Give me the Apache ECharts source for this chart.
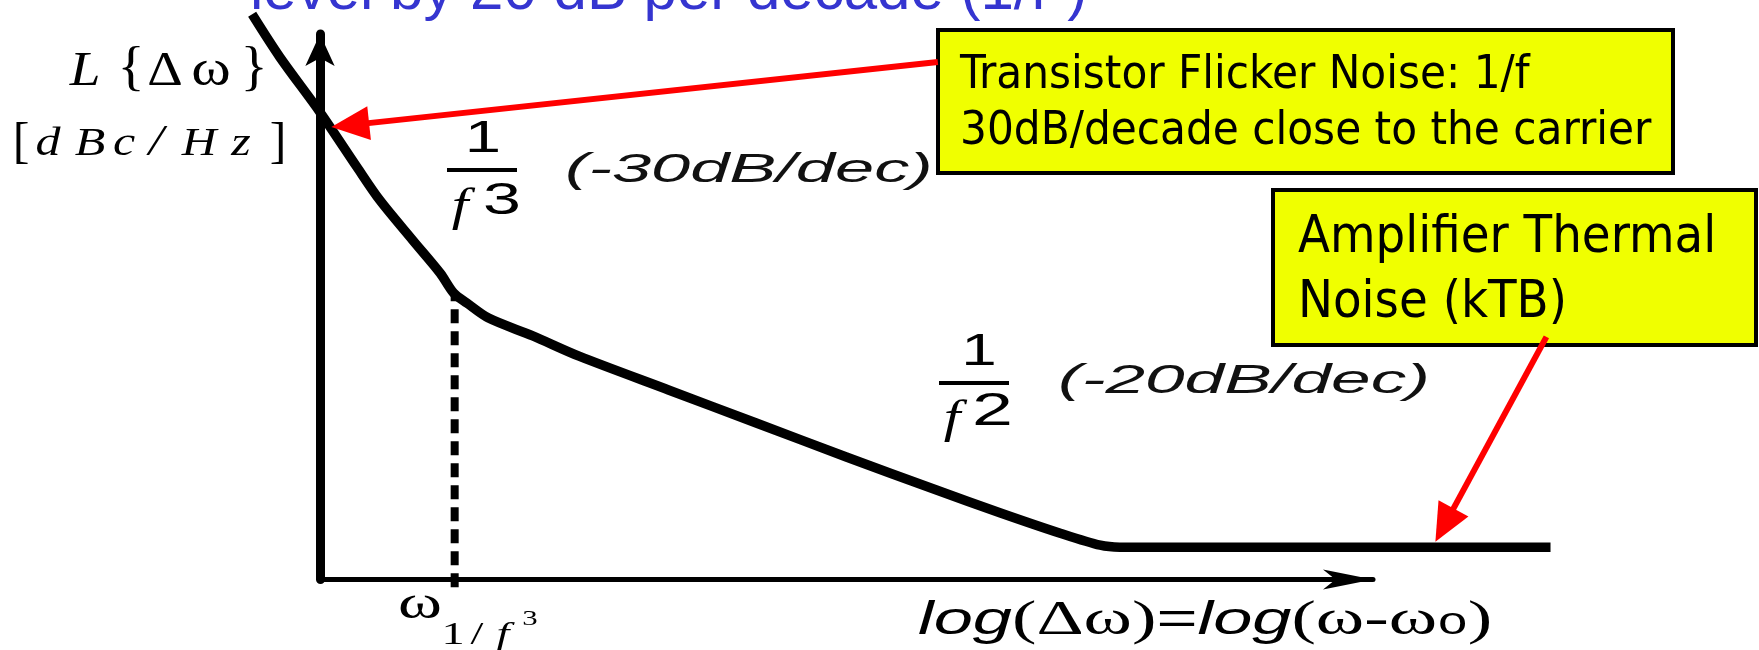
<!DOCTYPE html>
<html><head><meta charset="utf-8">
<script src="https://cdn.jsdelivr.net/npm/echarts@6/dist/echarts.min.js"></script>
<style>html,body{margin:0;padding:0;background:#fff}#c{width:1759px;height:650px}</style>
</head><body><div id="c"></div>
<script>
// ---- data (x: log offset frequency in decades, y: phase-noise level in dBc/Hz, arbitrary reference) ----
const logOffset  = [-0.66,-0.39,0,0.36,0.58,0.9,1.17,1.3,1.43,1.64,2.07,2.52,3.39,4.25,5.12,5.99,6.62,7.2,7.59,7.78,11.97];
const noiseLevel = [-62.8,-71.7,-83.1,-94.5,-101.3,-109.6,-116.5,-120.6,-122.7,-125.8,-129.5,-133.7,-140.7,-147.6,-154.6,-161.4,-166.2,-170.4,-172.9,-173.3,-173.3];
const cornerX = [1.31, 1.31];          // omega_{1/f^3} corner
const cornerY = [-181.6, -120.6];
const arrowFrom = [[6.01, -72.7], [11.93, -129.7]];
const arrowTo   = [[0.11, -86.2], [10.85, -172.2]];
const axisXRange = [0, 10.24];         // drawn axes (end at the arrow tips)
const axisYRange = [-180, -66.9];
const plotXRange = [-1, 12.5];         // same scale, wider window so nothing is cut
const plotYRange = [-185, -62];

const SANS = '"Liberation Sans", Arial, sans-serif';
const SERIF = '"Liberation Serif", "Times New Roman", serif';
const COND = '"DejaVu Sans Condensed", "Liberation Sans Narrow", "DejaVu Sans", sans-serif';

function txt(text, x, base, fs, family, opt) {
  opt = opt || {};
  const align = opt.align || 'left';
  return {
    type: 'text', x: x, y: base - 0.35 * fs, scaleX: opt.sx || 1, z: opt.z || 20,
    style: {
      text: text, x: 0, y: 0,
      font: (opt.italic ? 'italic ' : '') + fs + 'px ' + family,
      fill: opt.color || '#000',
      align: align, textAlign: align, verticalAlign: 'middle', textVerticalAlign: 'middle',
      rich: opt.rich
    }
  };
}

const graphics = [
  // cut-off slide text at top
  txt('level by 20 dB per decade (1/f²)', 250, 13, 60, SANS, {color: '#3535d0'}),
  // yellow call-out boxes
  {type: 'rect', z: 1, shape: {x: 938, y: 30, width: 735, height: 143}, style: {fill: '#f0ff00', stroke: '#000', lineWidth: 4}},
  txt('Transistor Flicker Noise: 1/f', 960, 92, 47, COND, {z: 2}),
  txt('30dB/decade close to the carrier', 960, 148, 47, COND, {z: 2}),
  {type: 'rect', z: 1, shape: {x: 1273, y: 190, width: 483, height: 155}, style: {fill: '#f0ff00', stroke: '#000', lineWidth: 4}},
  txt('Amplifier Thermal', 1298, 257, 52, COND, {z: 2}),
  txt('Noise (kTB)', 1298, 322, 52, COND, {z: 2}),
  // y axis name  L{Δω} [dBc/Hz]
  txt('L', 85, 89, 48, SERIF, {italic: true, sx: 1.15, align: 'center'}),
  txt('{', 131, 89, 54, SERIF, {sx: 1.05, align: 'center'}),
  txt('Δ', 165, 89, 48, SERIF, {sx: 1.15, align: 'center'}),
  txt('ω', 211, 89, 50, SERIF, {sx: 1.2, align: 'center'}),
  txt('}', 254, 89, 54, SERIF, {sx: 1.05, align: 'center'}),
  txt('[', 21, 161, 50, SERIF, {sx: 1.0, align: 'center'}),
  txt('d', 48, 158, 40, SERIF, {italic: true, sx: 1.25, align: 'center'}),
  txt('B', 90, 158, 40, SERIF, {italic: true, sx: 1.25, align: 'center'}),
  txt('c', 124, 158, 40, SERIF, {italic: true, sx: 1.25, align: 'center'}),
  txt('/', 156, 159, 44, SERIF, {italic: true, sx: 1.2, align: 'center'}),
  txt('H', 199, 158, 40, SERIF, {italic: true, sx: 1.2, align: 'center'}),
  txt('z', 241, 158, 40, SERIF, {italic: true, sx: 1.25, align: 'center'}),
  txt(']', 278, 161, 50, SERIF, {sx: 1.0, align: 'center'}),
  // 1/f^3 (-30dB/dec)
  txt('1', 483, 155, 45, SANS, {sx: 1.45, align: 'center'}),
  {type: 'rect', z: 20, shape: {x: 447, y: 168, width: 70, height: 4}, style: {fill: '#000'}},
  txt('f', 460, 224, 46, SERIF, {italic: true, sx: 1.3, align: 'center'}),
  txt('3', 483, 217, 44, SANS, {sx: 1.55}),
  txt('(-30dB/dec)', 565, 185, 40, SANS, {italic: true, sx: 1.76, color: '#111'}),
  // 1/f^2 (-20dB/dec)
  txt('1', 979, 368, 44, SANS, {sx: 1.45, align: 'center'}),
  {type: 'rect', z: 20, shape: {x: 939, y: 381, width: 70, height: 4}, style: {fill: '#000'}},
  txt('f', 952, 436, 46, SERIF, {italic: true, sx: 1.3, align: 'center'}),
  txt('2', 972, 428, 46, SANS, {sx: 1.6}),
  txt('(-20dB/dec)', 1058, 396, 40, SANS, {italic: true, sx: 1.78, color: '#111'}),
  // x-axis labels
  txt('ω', 420, 622, 46, SERIF, {sx: 1.45, align: 'center'}),
  txt('1', 453, 647, 32, SERIF, {sx: 1.45, align: 'center'}),
  txt('/', 477, 647, 32, SERIF, {sx: 1.45, align: 'center'}),
  txt('f', 503, 647, 32, SERIF, {italic: true, sx: 1.45, align: 'center'}),
  txt('3', 530, 627, 22, SERIF, {sx: 1.4, align: 'center'}),
  txt('{s|log}{m|(Δω)}{e|=}{s|log}{m|(ω-ω}{b|₀}{m|)}', 918, 637, 46, SERIF, {
    sx: 1.53,
    rich: {
      s: {fontStyle: 'italic', fontSize: 46, fontFamily: SANS, fill: '#000'},
      m: {fontSize: 48, fontFamily: SERIF, fill: '#000'},
      e: {fontSize: 46, fontFamily: SANS, fill: '#000'},
      b: {fontSize: 50, fontFamily: '"DejaVu Sans", sans-serif', fill: '#000'}
    }
  })
];

const hiddenAxis = {show: false};
const chart = echarts.init(document.getElementById('c'), null, {renderer: 'canvas'});
chart.setOption({
  animation: false,
  backgroundColor: '#fff',
  grid: [
    {left: 320, right: 386, top: 34, bottom: 70.5, containLabel: false},
    {left: 217.2, right: 154, top: 10.4, bottom: 46.4, containLabel: false}
  ],
  xAxis: [
    {
      type: 'value', gridIndex: 0, min: axisXRange[0], max: axisXRange[1],
      axisLine: {show: true, onZero: false, symbol: ['none', 'arrow'], symbolSize: [15, 50], lineStyle: {color: '#000', width: 5}},
      axisTick: {show: false}, axisLabel: {show: false}, splitLine: {show: false}
    },
    Object.assign({type: 'value', gridIndex: 1, min: plotXRange[0], max: plotXRange[1]}, hiddenAxis)
  ],
  yAxis: [
    {
      type: 'value', gridIndex: 0, min: axisYRange[0], max: axisYRange[1],
      axisLine: {show: true, onZero: false, symbol: ['none', 'arrow'], symbolSize: [22, 32], lineStyle: {color: '#000', width: 9}},
      axisTick: {show: false}, axisLabel: {show: false}, splitLine: {show: false}
    },
    Object.assign({type: 'value', gridIndex: 1, min: plotYRange[0], max: plotYRange[1]}, hiddenAxis)
  ],
  series: [
    {
      type: 'line', name: 'L(Δω)', xAxisIndex: 1, yAxisIndex: 1, clip: false, symbol: 'none', z: 3,
      smooth: 0.3,
      data: logOffset.map((x, i) => [x, noiseLevel[i]]),
      lineStyle: {color: '#000', width: 9.5, cap: 'butt', join: 'round'}
    },
    {
      type: 'line', name: 'corner', xAxisIndex: 1, yAxisIndex: 1, clip: false, symbol: 'none', z: 2,
      data: cornerX.map((x, i) => [x, cornerY[i]]),
      lineStyle: {color: '#000', width: 8, type: [14, 8]}
    },
    {
      type: 'custom', name: 'arrows', xAxisIndex: 1, yAxisIndex: 1, clip: false, z: 6,
      data: arrowFrom.map((p, i) => [p[0], p[1], arrowTo[i][0], arrowTo[i][1]]),
      renderItem: function (params, api) {
        const a = api.coord([api.value(0), api.value(1)]);
        const b = api.coord([api.value(2), api.value(3)]);
        const dx = b[0] - a[0], dy = b[1] - a[1];
        const L = Math.hypot(dx, dy), ux = dx / L, uy = dy / L;
        const hl = 38, hw = 17;
        const base = [b[0] - ux * hl, b[1] - uy * hl];
        const px = -uy, py = ux;
        return {
          type: 'group', children: [
            {type: 'line', shape: {x1: a[0], y1: a[1], x2: base[0] + ux * 3, y2: base[1] + uy * 3}, style: {stroke: '#ff0000', lineWidth: 6}},
            {type: 'polygon', shape: {points: [b, [base[0] + px * hw, base[1] + py * hw], [base[0] - px * hw, base[1] - py * hw]]}, style: {fill: '#ff0000'}}
          ]
        };
      }
    }
  ],
  graphic: {elements: graphics}
});
</script>
</body></html>
